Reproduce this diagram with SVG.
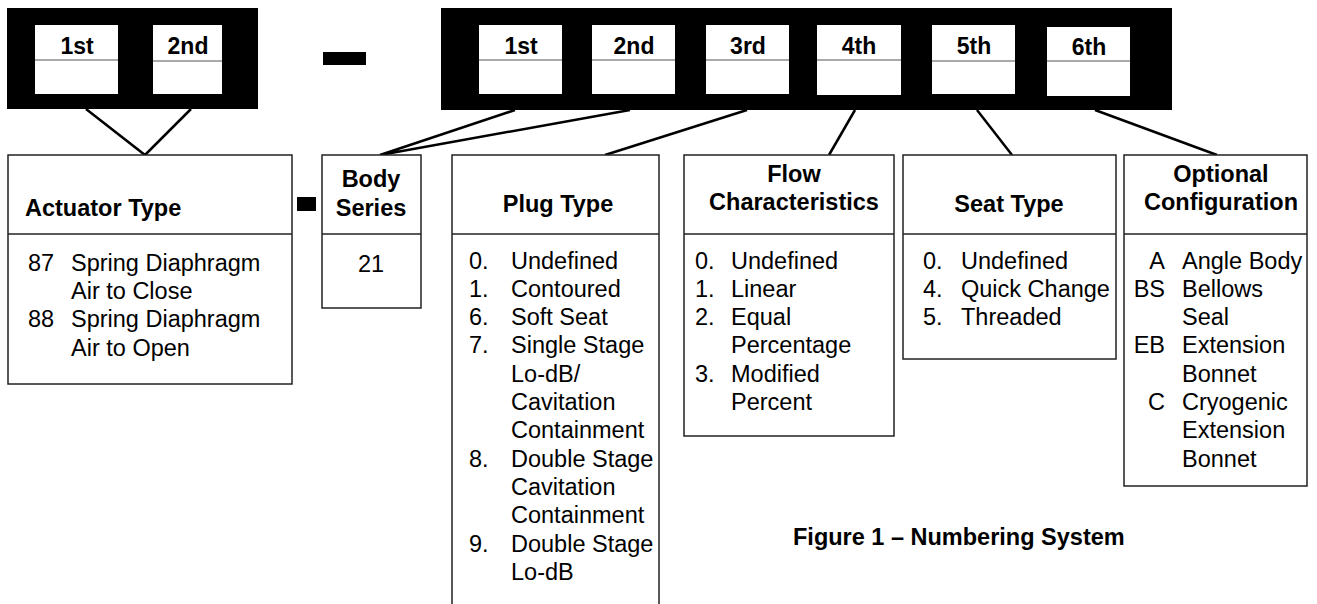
<svg xmlns="http://www.w3.org/2000/svg" width="1317" height="604" viewBox="0 0 1317 604">
<style>
text{font-family:"Liberation Sans",Arial,sans-serif;fill:#000}
.t{font-size:23.5px}
.b{font-size:23.5px;font-weight:bold}
.h{font-size:23px;font-weight:bold;text-anchor:middle}
.c{text-anchor:middle}
.r{text-anchor:end}
.box{fill:#fff;stroke:#222;stroke-width:1.5}
.div{stroke:#222;stroke-width:1.5}
.cell{fill:#fff;stroke:none}
.cdiv{stroke:#555;stroke-width:1}
.con{stroke:#000;stroke-width:2.5;fill:none}
</style>
<rect width="1317" height="604" fill="#fff"/>

<g id="code-left">
<rect x="7" y="8" width="251" height="101" fill="#000"/>
<rect class="cell" x="35" y="25" width="83" height="69"/>
<line class="cdiv" x1="35" y1="60" x2="118" y2="60"/>
<text class="h" x="77" y="54">1st</text>
<rect class="cell" x="153" y="25" width="69" height="69"/>
<line class="cdiv" x1="153" y1="61" x2="222" y2="61"/>
<text class="h" x="188" y="54">2nd</text>
</g>

<g id="dash-top"><rect x="323" y="52" width="43" height="13" fill="#000"/></g>

<g id="code-right">
<rect x="441" y="8" width="731" height="102" fill="#000"/>
<rect class="cell" x="479" y="25" width="83" height="69"/>
<line class="cdiv" x1="479" y1="60" x2="562" y2="60"/>
<text class="h" x="521" y="54">1st</text>
<rect class="cell" x="592" y="25" width="83" height="69"/>
<line class="cdiv" x1="592" y1="60" x2="675" y2="60"/>
<text class="h" x="634" y="54">2nd</text>
<rect class="cell" x="706" y="25" width="83" height="69"/>
<line class="cdiv" x1="706" y1="60" x2="789" y2="60"/>
<text class="h" x="748" y="54">3rd</text>
<rect class="cell" x="817" y="25" width="84" height="70"/>
<line class="cdiv" x1="817" y1="60" x2="901" y2="60"/>
<text class="h" x="859" y="54">4th</text>
<rect class="cell" x="932" y="25" width="83" height="69"/>
<line class="cdiv" x1="932" y1="61" x2="1015" y2="61"/>
<text class="h" x="974" y="54">5th</text>
<rect class="cell" x="1047" y="27" width="83" height="69"/>
<line class="cdiv" x1="1047" y1="61" x2="1130" y2="61"/>
<text class="h" x="1089" y="55">6th</text>
</g>

<g id="connectors">
<polyline class="con" points="86,109 145,155 191,109"/>
<polyline class="con" points="515,110 380,155 630,110"/>
<line class="con" x1="747" y1="110" x2="605" y2="155"/>
<line class="con" x1="855" y1="110" x2="829" y2="155"/>
<line class="con" x1="977" y1="110" x2="1012" y2="155"/>
<line class="con" x1="1095" y1="110" x2="1217" y2="155"/>
</g>

<g id="actuator">
<rect class="box" x="8" y="155" width="284" height="229"/>
<line class="div" x1="8" y1="234" x2="292" y2="234"/>
<text class="b" x="25" y="216">Actuator Type</text>
<text class="t" x="28" y="271">87</text><text class="t" x="71" y="271">Spring Diaphragm</text>
<text class="t" x="71" y="299">Air to Close</text>
<text class="t" x="28" y="327">88</text><text class="t" x="71" y="327">Spring Diaphragm</text>
<text class="t" x="71" y="356">Air to Open</text>
</g>

<g id="dash-small"><rect x="297" y="197" width="19" height="14" fill="#000"/></g>

<g id="body">
<rect class="box" x="322" y="155" width="99" height="153"/>
<line class="div" x1="322" y1="234" x2="421" y2="234"/>
<text class="b c" x="371" y="187">Body</text>
<text class="b c" x="371" y="216">Series</text>
<text class="t c" x="371" y="272">21</text>
</g>

<g id="plug">
<path class="box" d="M452,610 V155 H659 V610"/>
<line class="div" x1="452" y1="234" x2="659" y2="234"/>
<text class="b c" x="558" y="212">Plug Type</text>
<text class="t" x="469" y="268.5">0.</text><text class="t" x="511" y="268.5">Undefined</text>
<text class="t" x="469" y="296.8">1.</text><text class="t" x="511" y="296.8">Contoured</text>
<text class="t" x="469" y="325.1">6.</text><text class="t" x="511" y="325.1">Soft Seat</text>
<text class="t" x="469" y="353.4">7.</text><text class="t" x="511" y="353.4">Single Stage</text>
<text class="t" x="511" y="381.7">Lo-dB/</text>
<text class="t" x="511" y="410">Cavitation</text>
<text class="t" x="511" y="438.3">Containment</text>
<text class="t" x="469" y="466.6">8.</text><text class="t" x="511" y="466.6">Double Stage</text>
<text class="t" x="511" y="494.9">Cavitation</text>
<text class="t" x="511" y="523.2">Containment</text>
<text class="t" x="469" y="551.5">9.</text><text class="t" x="511" y="551.5">Double Stage</text>
<text class="t" x="511" y="579.8">Lo-dB</text>
</g>

<g id="flow">
<rect class="box" x="684" y="155" width="210" height="281"/>
<line class="div" x1="684" y1="234" x2="894" y2="234"/>
<text class="b c" x="794" y="182">Flow</text>
<text class="b c" x="794" y="210">Characteristics</text>
<text class="t" x="695" y="268.5">0.</text><text class="t" x="731" y="268.5">Undefined</text>
<text class="t" x="695" y="296.8">1.</text><text class="t" x="731" y="296.8">Linear</text>
<text class="t" x="695" y="325.1">2.</text><text class="t" x="731" y="325.1">Equal</text>
<text class="t" x="731" y="353.4">Percentage</text>
<text class="t" x="695" y="381.7">3.</text><text class="t" x="731" y="381.7">Modified</text>
<text class="t" x="731" y="410">Percent</text>
</g>

<g id="seat">
<rect class="box" x="903" y="155" width="213" height="204"/>
<line class="div" x1="903" y1="234" x2="1116" y2="234"/>
<text class="b c" x="1009" y="212">Seat Type</text>
<text class="t" x="923" y="268.5">0.</text><text class="t" x="961" y="268.5">Undefined</text>
<text class="t" x="923" y="296.8">4.</text><text class="t" x="961" y="296.8">Quick Change</text>
<text class="t" x="923" y="325.1">5.</text><text class="t" x="961" y="325.1">Threaded</text>
</g>

<g id="optional">
<rect class="box" x="1124" y="155" width="183" height="331"/>
<line class="div" x1="1124" y1="234" x2="1307" y2="234"/>
<text class="b c" x="1221" y="182">Optional</text>
<text class="b c" x="1221" y="210">Configuration</text>
<text class="t r" x="1165" y="268.5">A</text><text class="t" x="1182" y="268.5">Angle Body</text>
<text class="t r" x="1165" y="296.8">BS</text><text class="t" x="1182" y="296.8">Bellows</text>
<text class="t" x="1182" y="325.1">Seal</text>
<text class="t r" x="1165" y="353.4">EB</text><text class="t" x="1182" y="353.4">Extension</text>
<text class="t" x="1182" y="381.7">Bonnet</text>
<text class="t r" x="1165" y="410">C</text><text class="t" x="1182" y="410">Cryogenic</text>
<text class="t" x="1182" y="438.3">Extension</text>
<text class="t" x="1182" y="466.6">Bonnet</text>
</g>

<g id="caption">
<text class="b" x="793" y="545">Figure 1 – Numbering System</text>
</g>
</svg>
